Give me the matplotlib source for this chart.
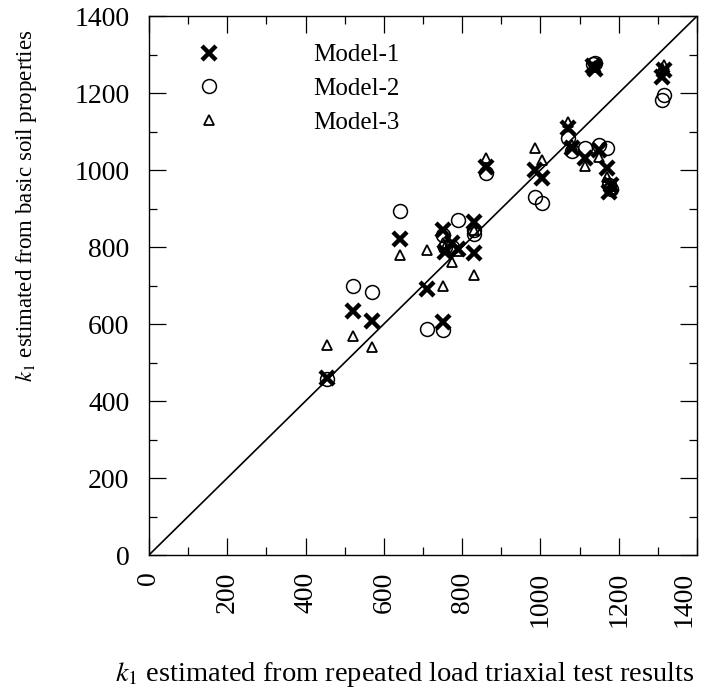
import matplotlib
matplotlib.use("Agg")
import matplotlib.pyplot as plt
from matplotlib.ticker import MultipleLocator

plt.rcParams['font.family'] = ['Liberation Serif', 'DejaVu Serif']
plt.rcParams['mathtext.fontset'] = 'stix'

# k1 from repeated load triaxial tests
k1_test = [455, 520, 570, 640, 710, 750, 750, 755, 775, 790, 830, 830, 860,
           985, 1005, 1070, 1080, 1115, 1135, 1140, 1150, 1170, 1175, 1180,
           1310, 1315]
# k1 estimated from basic soil properties
model1 = [460, 634, 608, 820, 690, 604, 845, 788, 810, 795, 866, 784, 1009,
          1000, 978, 1110, 1058, 1030, 1270, 1262, 1052, 1004, 944, 960,
          1242, 1260]
model2 = [458, 700, 683, 893, 587, 585, 830, 800, 800, 870, 844, 835, 993,
          931, 915, 1082, 1050, 1056, 1275, 1278, 1065, 1056, 961, 950,
          1182, 1195]
model3 = [545, 570, 540, 778, 792, 700, 810, 800, 762, 790, 844, 727, 1030,
          1056, 1027, 1125, 1065, 1010, 1268, 1270, 1035, 983, 965, 950,
          1265, 1272]
ticks = [0, 200, 400, 600, 800, 1000, 1200, 1400]

fig = plt.figure(figsize=(7.04, 6.91), dpi=100)
ax = fig.add_axes([0.2116, 0.1968, 0.7785, 0.78])

ax.plot([0, 1400], [0, 1400], color='black', lw=1.2, zorder=1)

ax.plot(k1_test, model1, linestyle='none', marker='x', ms=10, mew=3.2,
        color='black', label='Model-1', zorder=3)
ax.plot(k1_test, model2, linestyle='none', marker='o', ms=10, mew=1.1,
        mfc='none', mec='black', label='Model-2', zorder=3)
ax.plot(k1_test, model3, linestyle='none', marker='^', ms=7.5, mew=1.3,
        mfc='none', mec='black', label='Model-3', zorder=3)

ax.set_xlim(0, 1400)
ax.set_ylim(0, 1400)
ax.set_xticks(ticks)
ax.set_yticks(ticks)
ax.xaxis.set_minor_locator(MultipleLocator(100))
ax.yaxis.set_minor_locator(MultipleLocator(100))
ax.tick_params(which='both', direction='in', top=True, right=True, width=0.9)
ax.tick_params(which='major', length=12, labelsize=20)
ax.tick_params(axis='y', pad=14)
ax.tick_params(axis='x', pad=12)
ax.tick_params(which='minor', length=6)
ax.set_xticklabels([str(t) for t in ticks], rotation=90)
ax.get_xticklabels()[-1].set_ha('right')
for s in ax.spines.values():
    s.set_linewidth(1.0)

ax.set_xlabel(r'$\mathit{k_1}$ estimated from repeated load triaxial test results',
              fontsize=20.5)
ax.xaxis.set_label_coords(0.466, -0.195)
ax.set_ylabel(r'$\mathit{k_1}$ estimated from basic soil properties',
              fontsize=16.5)
ax.yaxis.set_label_coords(-0.20, 0.648)

ax.legend(loc='upper left', bbox_to_anchor=(0.035, 0.99), frameon=False,
          fontsize=18, handletextpad=3.4, labelspacing=0.45, numpoints=1,
          handlelength=1.5)

fig.savefig('out.png', dpi=100)
